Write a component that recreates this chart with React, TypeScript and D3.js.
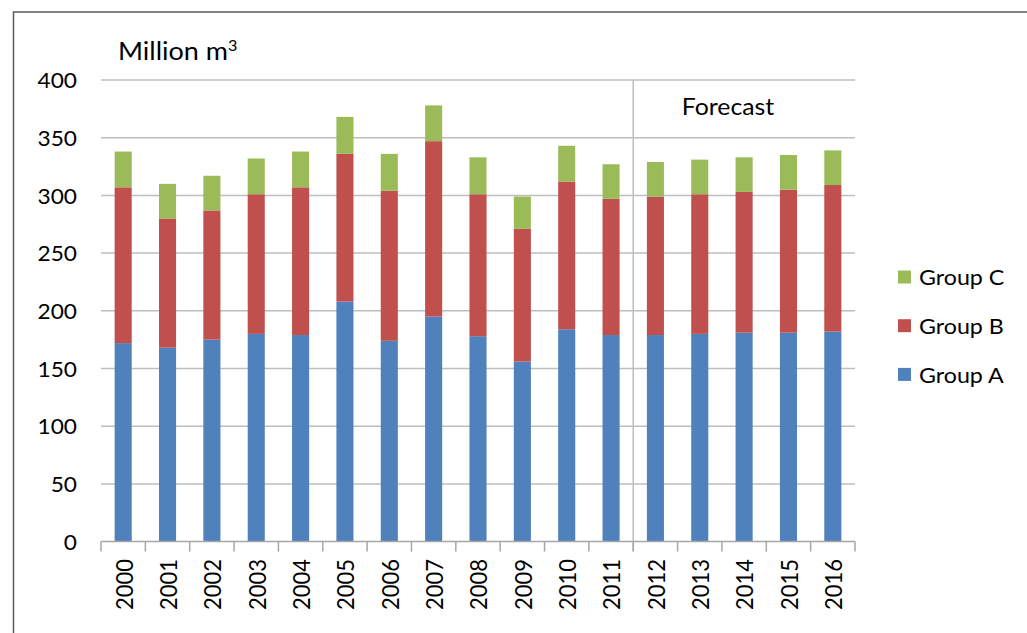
import React from "react";
import * as d3 from "d3";

const years = ["2000","2001","2002","2003","2004","2005","2006","2007","2008","2009","2010","2011","2012","2013","2014","2015","2016"];
const groupA = [172, 168, 175, 180, 179, 208, 174, 195, 178, 156, 184, 179, 179, 180, 181, 181, 182];
const groupB = [135, 112, 112, 121, 128, 128, 130, 152, 123, 115, 128, 118, 120, 121, 122, 124, 127];
const groupC = [31, 30, 30, 31, 31, 32, 32, 31, 32, 28, 31, 30, 30, 30, 30, 30, 30];
const yTicks = [0, 50, 100, 150, 200, 250, 300, 350, 400];
const seriesNames = ["Group A", "Group B", "Group C"];
const seriesColors = ["#4F81BD", "#C0504D", "#9BBB59"];
const forecastStart = "2012";

const W = 1027, H = 633;
const left = 101, right = 855, top = 80, bottom = 541.6;
const FONT = "Lato, 'Open Sans', sans-serif";
const SX = 1.08;

export default function App() {
  const n = years.length;
  const x = d3.scaleBand<string>().domain(years).range([left, right]).paddingInner(0.615).paddingOuter(0.3075);
  const step = x.step();
  const y = d3.scaleLinear().domain([0, 400]).range([bottom, top]);

  const table = years.map((yr, i) => ({ year: yr, a: groupA[i], b: groupB[i], c: groupC[i] }));
  const stack = d3.stack<any>().keys(["a", "b", "c"])(table);

  const boundaries = d3.range(n + 1).map((i) => left + i * step);
  const fIdx = years.indexOf(forecastStart);
  const fx = left + fIdx * step;

  return (
    <div style={{ position: "fixed", left: 0, top: 0 }}>
      <svg width={W} height={H} style={{ display: "block", background: "#fff" }}>
        <rect x={13.5} y={12} width={W} height={H} fill="none" stroke="#595959" strokeWidth={1.5} />
        {yTicks.map((t) => (
          <g key={t}>
            {t > 0 && <line x1={left} x2={right} y1={y(t)} y2={y(t)} stroke="#BEBEBE" strokeWidth={1.5} />}
            <text transform={`translate(77,${y(t)}) scale(${SX},1)`} textAnchor="end" dominantBaseline="central" fontFamily={FONT} fontSize={21} fill="#000">{t}</text>
          </g>
        ))}
        <line x1={fx} x2={fx} y1={top} y2={bottom + 10} stroke="#BEBEBE" strokeWidth={1.5} />
        {stack.map((s, si) => (
          <g key={si} fill={seriesColors[si]}>
            {s.map((d: any, i: number) => (
              <rect key={i} x={x(years[i])!} width={x.bandwidth()} y={y(d[1])} height={y(d[0]) - y(d[1])} />
            ))}
          </g>
        ))}
        <line x1={left} x2={right} y1={bottom} y2={bottom} stroke="#A6A6A6" strokeWidth={1.5} />
        {boundaries.map((b, i) => (
          <line key={i} x1={b} x2={b} y1={bottom} y2={bottom + 10} stroke="#A6A6A6" strokeWidth={1.5} />
        ))}
        {years.map((yr) => {
          const cx = x(yr)! + x.bandwidth() / 2;
          return (
            <text key={yr} transform={`translate(${cx},559) scale(${SX},1) rotate(-90)`} textAnchor="end" dominantBaseline="central" fontFamily={FONT} fontSize={22} fill="#000">{yr}</text>
          );
        })}
        <text transform={`translate(118,60) scale(${SX},1)`} fontFamily={FONT} fontSize={25} fill="#000">
          Million m<tspan fontSize={15} dy={-9}>3</tspan>
        </text>
        <text transform={`translate(728,115) scale(${SX},1)`} textAnchor="middle" fontFamily={FONT} fontSize={23} fill="#000">Forecast</text>
        {[2, 1, 0].map((si, k) => {
          const cy = 277 + k * 48.7;
          return (
            <g key={si}>
              <rect x={898} y={cy - 6.5} width={13} height={13} fill={seriesColors[si]} />
              <text transform={`translate(919,${cy}) scale(${SX},1)`} dominantBaseline="central" fontFamily={FONT} fontSize={21.5} fill="#000">{seriesNames[si]}</text>
            </g>
          );
        })}
      </svg>
    </div>
  );
}
